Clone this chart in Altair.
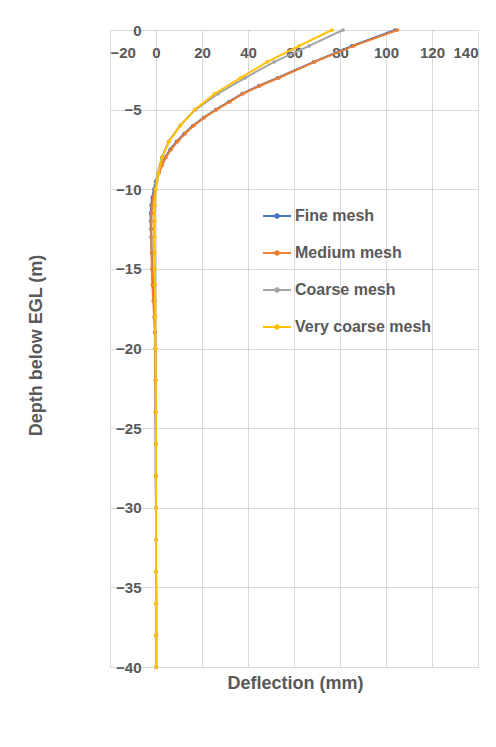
import altair as alt
import pandas as pd

series_names = ["Fine mesh", "Medium mesh", "Coarse mesh", "Very coarse mesh"]
series_colors = ["#4472C4", "#ED7D31", "#A5A5A5", "#FFC000"]

depth_fm = [0, -1, -2, -3, -3.5, -4, -4.5, -5, -5.5, -6, -6.5, -7, -7.5, -8, -8.5, -9, -9.5,
            -10, -10.5, -11, -11.5, -12, -12.5, -13, -14, -15, -16, -17, -18, -19, -20,
            -22, -24, -26, -28, -30, -32, -34, -36, -38, -40]
defl_fine = [104.0, 85.2, 68.6, 53.0, 44.8, 37.5, 31.8, 26.0, 20.7, 16.1, 12.3, 9.0, 6.2, 4.0,
             2.3, 1.0, -0.1, -0.9, -1.6, -2.1, -2.3, -2.3, -2.2, -2.1, -1.9, -1.6, -1.3, -0.9,
             -0.6, -0.4, -0.3, -0.2, -0.2, -0.1, -0.1, 0.0, 0.0, 0.0, 0.1, 0.1, 0.1]
defl_medium = [105.0, 86.0, 69.0, 53.5, 45.2, 37.8, 32.2, 26.3, 21.0, 16.5, 12.7, 9.4, 6.6, 4.3,
               2.6, 1.3, 0.3, -0.5, -1.2, -1.6, -1.9, -2.0, -2.0, -2.0, -1.9, -1.8, -1.6, -1.2,
               -0.8, -0.5, -0.4, -0.3, -0.2, -0.1, -0.1, 0.0, 0.0, 0.0, 0.0, 0.0, 0.0]

depth_coarse = [0, -1, -2, -3, -4, -5, -6, -7, -8, -9, -10, -11, -12, -13, -14, -15, -16, -17, -18,
                -20, -22, -24, -26, -28, -30, -32, -34, -36, -38, -40]
defl_coarse = [81.3, 66.6, 51.4, 38.8, 27.0, 17.2, 10.4, 5.5, 2.5, 0.7, -0.2, -0.6, -0.8, -0.8,
               -0.7, -0.6, -0.5, -0.4, -0.3, -0.2, -0.1, -0.1, 0.0, 0.0, 0.0, 0.0, 0.0, 0.1, 0.1, 0.1]

depth_vcoarse = [0, -1, -2, -3, -4, -5, -6, -7, -8, -9, -10, -11, -12, -13, -14, -15, -16,
                 -18, -20, -22, -24, -26, -28, -30, -32, -34, -36, -38, -40]
defl_vcoarse = [76.5, 62.2, 48.4, 36.8, 25.5, 16.8, 10.6, 5.7, 2.7, 1.0, -0.1, -0.5, -0.6, -0.6,
                -0.6, -0.5, -0.4, -0.3, -0.2, -0.1, 0.0, 0.0, 0.0, 0.1, 0.1, 0.1, 0.1, 0.1, 0.1]

x_ticks = [-20, 0, 20, 40, 60, 80, 100, 120, 140]
y_ticks = [0, -5, -10, -15, -20, -25, -30, -35, -40]

rows = []
for name, d, v in [
    ("Fine mesh", depth_fm, defl_fine),
    ("Medium mesh", depth_fm, defl_medium),
    ("Coarse mesh", depth_coarse, defl_coarse),
    ("Very coarse mesh", depth_vcoarse, defl_vcoarse),
]:
    for i, (dd, vv) in enumerate(zip(d, v)):
        rows.append({"series": name, "depth": dd, "defl": vv, "idx": i})
df = pd.DataFrame(rows)

FONT = "Liberation Sans"
TXT = "#595959"
W, H = 368, 637

color = alt.Color(
    "series:N",
    scale=alt.Scale(domain=series_names, range=series_colors),
    legend=alt.Legend(
        title=None,
        orient="none",
        legendX=152,
        legendY=171,
        symbolType="M-1,0L1,0M-0.12,0A0.12,0.12,0,1,1,0.12,0A0.12,0.12,0,1,1,-0.12,0Z",
        symbolSize=784,
        symbolStrokeWidth=2,
        labelFont=FONT,
        labelFontSize=16,
        labelFontWeight="bold",
        labelColor=TXT,
        labelOffset=3,
        rowPadding=14,
        padding=0,
    ),
)

x_enc = alt.X(
    "defl:Q",
    scale=alt.Scale(domain=[-20, 140], nice=False, zero=False),
    axis=alt.Axis(
        orient="top",
        values=x_ticks,
        ticks=False,
        domain=False,
        labelBaseline="top",
        labelPadding=-15,
        labelFont=FONT,
        labelFontSize=15,
        labelFontWeight="bold",
        labelColor=TXT,
        gridColor="#D9D9D9",
        gridWidth=1,
        title="Deflection (mm)",
        titleX=185,
        titleY=653,
        titleAlign="center",
        titleBaseline="middle",
        titleFont=FONT,
        titleFontSize=18,
        titleFontWeight="bold",
        titleColor=TXT,
    ),
)
y_enc = alt.Y(
    "depth:Q",
    scale=alt.Scale(domain=[-40, 0], nice=False, zero=False),
    axis=alt.Axis(
        orient="left",
        values=y_ticks,
        ticks=False,
        domain=False,
        offset=-46,
        labelPadding=15,
        labelFont=FONT,
        labelFontSize=15,
        labelFontWeight="bold",
        labelColor=TXT,
        gridColor="#D9D9D9",
        gridWidth=1,
        title="Depth below EGL (m)",
        titleAngle=-90,
        titleX=-120,
        titleY=315,
        titleAlign="center",
        titleBaseline="middle",
        titleFont=FONT,
        titleFontSize=18,
        titleFontWeight="bold",
        titleColor=TXT,
    ),
)

layers = []
for name in series_names:
    base = alt.Chart(df).transform_filter(alt.datum.series == name)
    line = base.mark_line(strokeWidth=2).encode(x=x_enc, y=y_enc, color=color, order="idx:Q")
    pts = base.mark_point(filled=True, size=14, opacity=1).encode(x=x_enc, y=y_enc, color=color)
    layers += [line, pts]

chart = alt.layer(*layers).properties(
    width=W,
    height=H,
    autosize=alt.AutoSizeParams(type="none"),
    padding={"left": 102, "top": 22, "right": 10, "bottom": 60},
).configure_view(stroke=None).configure(background="white")

chart.save("out.html", embed_options={"renderer": "svg", "actions": False})
